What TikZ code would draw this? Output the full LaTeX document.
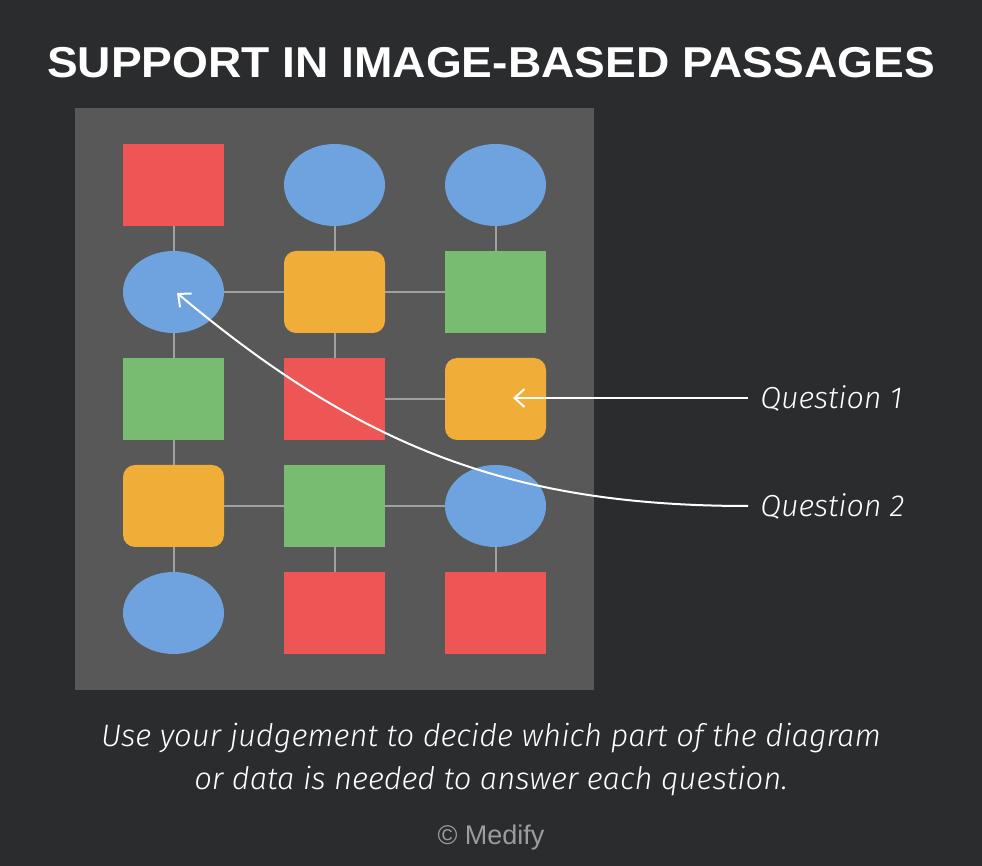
\documentclass[tikz,border=0pt]{standalone}
\usepackage{fontspec}
\usetikzlibrary{
	arrows.meta,
	positioning,
	shapes.geometric,
}
\newfontfamily\titlefont{Liberation Sans}[FakeStretch=1.067]
\newfontfamily\handfont{Fira Sans Light Italic}
\newfontfamily\markfont{Liberation Sans}
\definecolor{bgdark}{HTML}{2B2C2E}
\definecolor{panel}{HTML}{575857}
\definecolor{cred}{HTML}{EE5555}
\definecolor{cblue}{HTML}{6FA3DF}
\definecolor{corange}{HTML}{F0AD37}
\definecolor{cgreen}{HTML}{78BC72}
\definecolor{linkgray}{HTML}{9FA0A2}
\definecolor{markgray}{HTML}{9C9C9C}
\tikzset{cell/.style={minimum width=50.5pt,minimum height=41pt,inner sep=0pt,draw=none}}
\tikzset{redsq/.style={cell,rectangle,fill=cred}}
\tikzset{greensq/.style={cell,rectangle,fill=cgreen}}
\tikzset{orangesq/.style={cell,rectangle,rounded corners=6pt,fill=corange}}
\tikzset{oval/.style={cell,ellipse,fill=cblue}}
\tikzset{wire/.style={draw=linkgray,line width=1pt}}
\tikzset{pointer/.style={white,line width=1pt,-{Straight Barb[length=5pt,width=9pt]}}}
\tikzset{qlabel/.style={anchor=west,inner xsep=6pt,text=white,font=\handfont\fontsize{15.2}{18}\selectfont}}
\tikzset{note/.style={anchor=base,text=white,font=\handfont\fontsize{15.5}{21.5}\selectfont}}

\begin{document}
\begin{tikzpicture}[x=0.5pt,y=-0.5pt]
\fill[bgdark] (0,0) rectangle (982,866);
\useasboundingbox (0,0) rectangle (982,866);
\fill[panel] (75,108) rectangle (594,690);

\node[anchor=base,text=white,font=\titlefont\bfseries\fontsize{21.6}{24}\selectfont] (title) at (491,78) {SUPPORT IN IMAGE-BASED PASSAGES};

\node[redsq] (1) at (173.5,185) {};
\node[oval] (2) at (334.5,185) {};
\node[oval] (3) at (495.5,185) {};
\node[oval] (4) at (173.5,292) {};
\node[orangesq] (5) at (334.5,292) {};
\node[greensq] (6) at (495.5,292) {};
\node[greensq] (7) at (173.5,399) {};
\node[redsq] (8) at (334.5,399) {};
\node[orangesq] (9) at (495.5,399) {};
\node[orangesq] (10) at (173.5,506) {};
\node[greensq] (11) at (334.5,506) {};
\node[oval] (12) at (495.5,506) {};
\node[oval] (13) at (173.5,613) {};
\node[redsq] (14) at (334.5,613) {};
\node[redsq] (15) at (495.5,613) {};

\draw[wire] (1) -- (4);
\draw[wire] (4) -- (7);
\draw[wire] (7) -- (10);
\draw[wire] (10) -- (13);
\draw[wire] (2) -- (5);
\draw[wire] (5) -- (8);
\draw[wire] (11) -- (14);
\draw[wire] (3) -- (6);
\draw[wire] (12) -- (15);
\draw[wire] (4) -- (5);
\draw[wire] (5) -- (6);
\draw[wire] (8) -- (9);
\draw[wire] (10) -- (11);
\draw[wire] (11) -- (12);

\node[qlabel] (q1) at (748,398) {Question 1};
\node[qlabel] (q2) at (748,506) {Question 2};
\coordinate (t1) at (513,398);
\coordinate (t2) at (177,293);
\draw[pointer] (q1.west) -- (t1);
\draw[pointer] (q2.west) to[out=180,in=-40] (t2);

\node[note] (note1) at (491,747) {Use your judgement to decide which part of the diagram};
\node[note] (note2) at (491,790) {or data is needed to answer each question.};
\node[anchor=base,text=markgray,font=\markfont\fontsize{13.5}{15}\selectfont] (mark) at (491,845) {© Medify};

\end{tikzpicture}
\end{document}
